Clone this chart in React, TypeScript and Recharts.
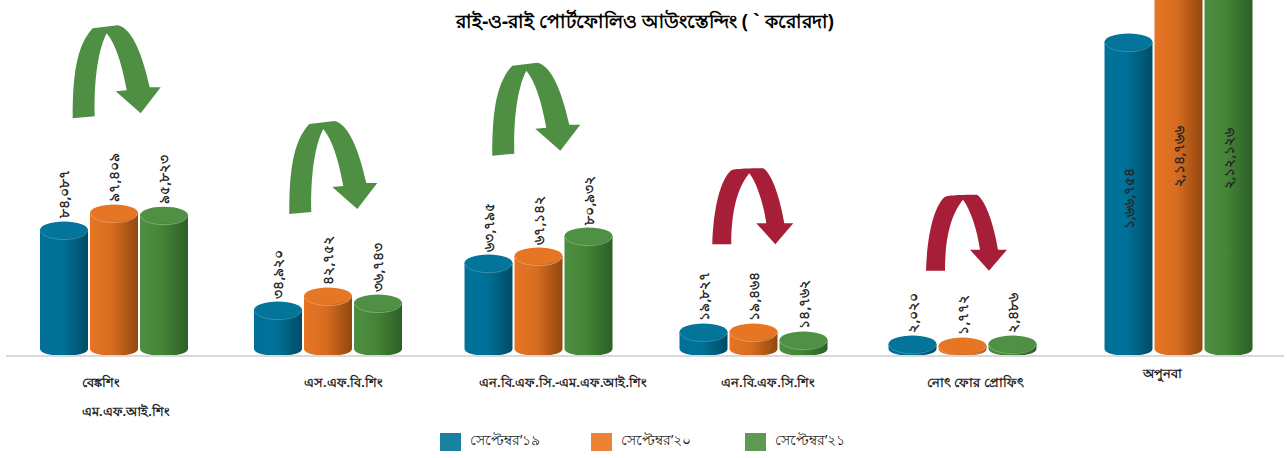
import { Bar, BarChart, Legend, XAxis, YAxis } from 'recharts';

const categories = ['বেঙ্কশিং', 'এস.এফ.বি.শিং', 'এন.বি.এফ.সি.-এম.এফ.আই.শিং', 'এন.বি.এফ.সি.শিং', 'নোৎ ফোর প্রোফিৎ', 'অপুনবা'];
const seriesNames = ['সেপ্টেম্বর’১৯', 'সেপ্টেম্বর’২০', 'সেপ্টেম্বর’২১'];

// bar heights are read off the picture, printed figures are kept apart (the source isn't to scale)
const sep19 = [84900, 27800, 61300, 12100, 3500, 219000];
const sep20 = [97000, 37800, 66300, 12100, 2100, 279000];
const sep21 = [95500, 32800, 80600, 6400, 3500, 276000];

const sep19Labels = ['৮৪,০৮৭', '৩৪,৯২০', '৬৩,৭৯৫', '১৯,৮২৭', '২,০২০', '১,৬৬,৭৫৪'];
const sep20Labels = ['৯৭,৪০৯', '৪২,৭৫২', '৬৭,১৪২', '১৯,৪৬৪', '১,৭৭২', '২,১৪,৭৬৬'];
const sep21Labels = ['৯৫,৮২৩', '৩৬,৭৪৩', '৮০,৯৩২', '১৪,৭৬২', '২,৪৮৬', '২,১২,১২৬'];

const chartData = categories.map((name, i) => ({ name, sep19: sep19[i], sep20: sep20[i], sep21: sep21[i] }));

const FONT = '"Noto Sans", sans-serif';

const tones = [
  { id: 'cylBlue', left: '#00709a', mid: '#007298', right: '#004c66', top: '#03759a', edge: '#4f9db6', legend: '#1a81a3' },
  { id: 'cylOrange', left: '#e67524', mid: '#d86d20', right: '#91480f', top: '#e67524', edge: '#f0a877', legend: '#ed8136' },
  { id: 'cylGreen', left: '#4d8f42', mid: '#468538', right: '#2c5f26', top: '#4f9044', edge: '#93bd8c', legend: '#5e9a53' },
];

// the groups aren't evenly spaced in the picture
const groupNudge = [1, 2, -0.5, 1.5, -2.5, 0.5];

const tickStart = [-30.5, -21.5, -59.5, -30.5, -37.5, -34.5];
const tickDrop = [23, 23, 23, 23, 23, 14];

const legendSpots = [
  { swatch: 440, text: 470 },
  { swatch: 591, text: 621 },
  { swatch: 745, text: 775 },
];

function Cylinder(props: any) {
  const { x, y, width, height, index, tone, labels } = props;
  const left = x + groupNudge[index];
  const cx = left + width / 2;
  const topRy = 8.5;
  const baseRy = 7;
  const tall = index === categories.length - 1;
  return (
    <g>
      <path
        d={`M${left},${y} L${left},${y + height} A${width / 2},${baseRy} 0 0 0 ${left + width},${y + height} L${left + width},${y} Z`}
        fill={`url(#${tone.id})`}
      />
      {!tall && (
        <text
          transform={`translate(${cx + 5},${y - topRy - 3}) rotate(-90)`}
          textAnchor="start"
          fontFamily={FONT}
          fontSize={14}
          fontWeight={700}
          fill="#262626"
        >
          {labels[index]}
        </text>
      )}
      <ellipse cx={cx} cy={y} rx={width / 2} ry={topRy} fill={tone.top} />
      <path d={`M${left + 1},${y + 1} A${width / 2 - 1},${topRy} 0 0 0 ${left + width - 1},${y + 1}`} fill="none" stroke={tone.edge} strokeWidth={0.7} />
      {tall && (
        <text
          transform={`translate(${cx + 5},${(y + y + height) / 2 + 3}) rotate(-90)`}
          textAnchor="middle"
          fontFamily={FONT}
          fontSize={13.5}
          fontWeight={700}
          fill="#262626"
        >
          {labels[index]}
        </text>
      )}
    </g>
  );
}

function CategoryTick({ x, y, payload, index }: any) {
  const startX = x + tickStart[index];
  return (
    <g>
      <text x={startX} y={y + tickDrop[index]} textAnchor="start" fontFamily={FONT} fontSize={12.7} fontWeight={700} fill="#262626">
        {payload.value}
      </text>
      {index === 0 && (
        <text x={startX} y={y + tickDrop[index] + 29} textAnchor="start" fontFamily={FONT} fontSize={12.7} fontWeight={700} fill="#262626">
          এম.এফ.আই.শিং
        </text>
      )}
    </g>
  );
}

function LegendRow() {
  return (
    <svg width={1287} height={30} style={{ display: 'block' }}>
      {seriesNames.map((name, i) => (
        <g key={name}>
          <rect x={legendSpots[i].swatch} y={5} width={21} height={18} fill={tones[i].legend} />
          <text x={legendSpots[i].text} y={17} fontFamily={FONT} fontSize={13.6} fill="#262626">
            {name}
          </text>
        </g>
      ))}
    </svg>
  );
}

// local outlines, one origin per arrow
const turnArrow = 'M0 0 C0 -40 3 -72 20 -90 L45 -93 C60 -90 70 -62 77 -31 L88 -31 L68 -5 L43 -27 L54 -28 C49 -55 43 -74 34 -85 C26 -70 21 -40 22 -2 Z';
const dropArrow = 'M0 0 C1 -35 8 -65 19 -74 C24 -76 46 -76 51 -76 C60 -70 68 -45 72 -21 L81 -21 L63 0 L44 -21 L54 -21 C51 -42 44 -62 37 -71 C28 -60 19 -40 19 0 Z';
const greenArrows = [[72.7, 118.3], [289.3, 214], [492.3, 155.7]];
const redArrows = [[712.3, 244.3], [926, 270.7]];

export default function App() {
  const labelSets = [sep19Labels, sep20Labels, sep21Labels];
  const keys = ['sep19', 'sep20', 'sep21'];
  return (
    <div style={{ position: 'absolute', left: 0, top: 0, width: 1287, height: 458, background: '#fff', overflow: 'hidden' }}>
      <BarChart
        width={1287}
        height={458}
        data={chartData}
        margin={{ top: 0, right: 3, bottom: 0, left: 6 }}
        barSize={48}
        barGap={2}
      >
        <defs>
          {tones.map((t) => (
            <linearGradient key={t.id} id={t.id} x1="0" y1="0" x2="1" y2="0">
              <stop offset="0%" stopColor={t.left} />
              <stop offset="45%" stopColor={t.mid} />
              <stop offset="100%" stopColor={t.right} />
            </linearGradient>
          ))}
        </defs>
        <XAxis
          dataKey="name"
          interval={0}
          height={72}
          tickLine={false}
          axisLine={{ stroke: '#d9d9d9', strokeWidth: 2 }}
          tick={<CategoryTick />}
        />
        <YAxis hide domain={[-5000, 249000]} allowDataOverflow />
        {keys.map((key, i) => (
          <Bar
            key={key}
            dataKey={key}
            name={seriesNames[i]}
            fill={tones[i].legend}
            isAnimationActive={false}
            shape={(p: any) => <Cylinder {...p} tone={tones[i]} labels={labelSets[i]} />}
          />
        ))}
        <Legend
          content={<LegendRow />}
          wrapperStyle={{ position: 'absolute', left: 0, top: 428, width: 1287, height: 30, bottom: 'auto' }}
        />
      </BarChart>
      <svg width={1287} height={458} style={{ position: 'absolute', left: 0, top: 0, pointerEvents: 'none' }}>
        {greenArrows.map(([ax, ay]) => (
          <path key={ax} d={turnArrow} transform={`translate(${ax},${ay})`} fill="#4e8f43" />
        ))}
        {redArrows.map(([ax, ay]) => (
          <path key={ax} d={dropArrow} transform={`translate(${ax},${ay})`} fill="#a61e38" />
        ))}
        <text x={645} y={28} textAnchor="middle" fontFamily={FONT} fontSize={18.7} fontWeight={700} fill="#000">
          রাই-ও-রাই পোর্টফোলিও আউংস্তেন্দিং ( ` করোরদা)
        </text>
      </svg>
    </div>
  );
}
